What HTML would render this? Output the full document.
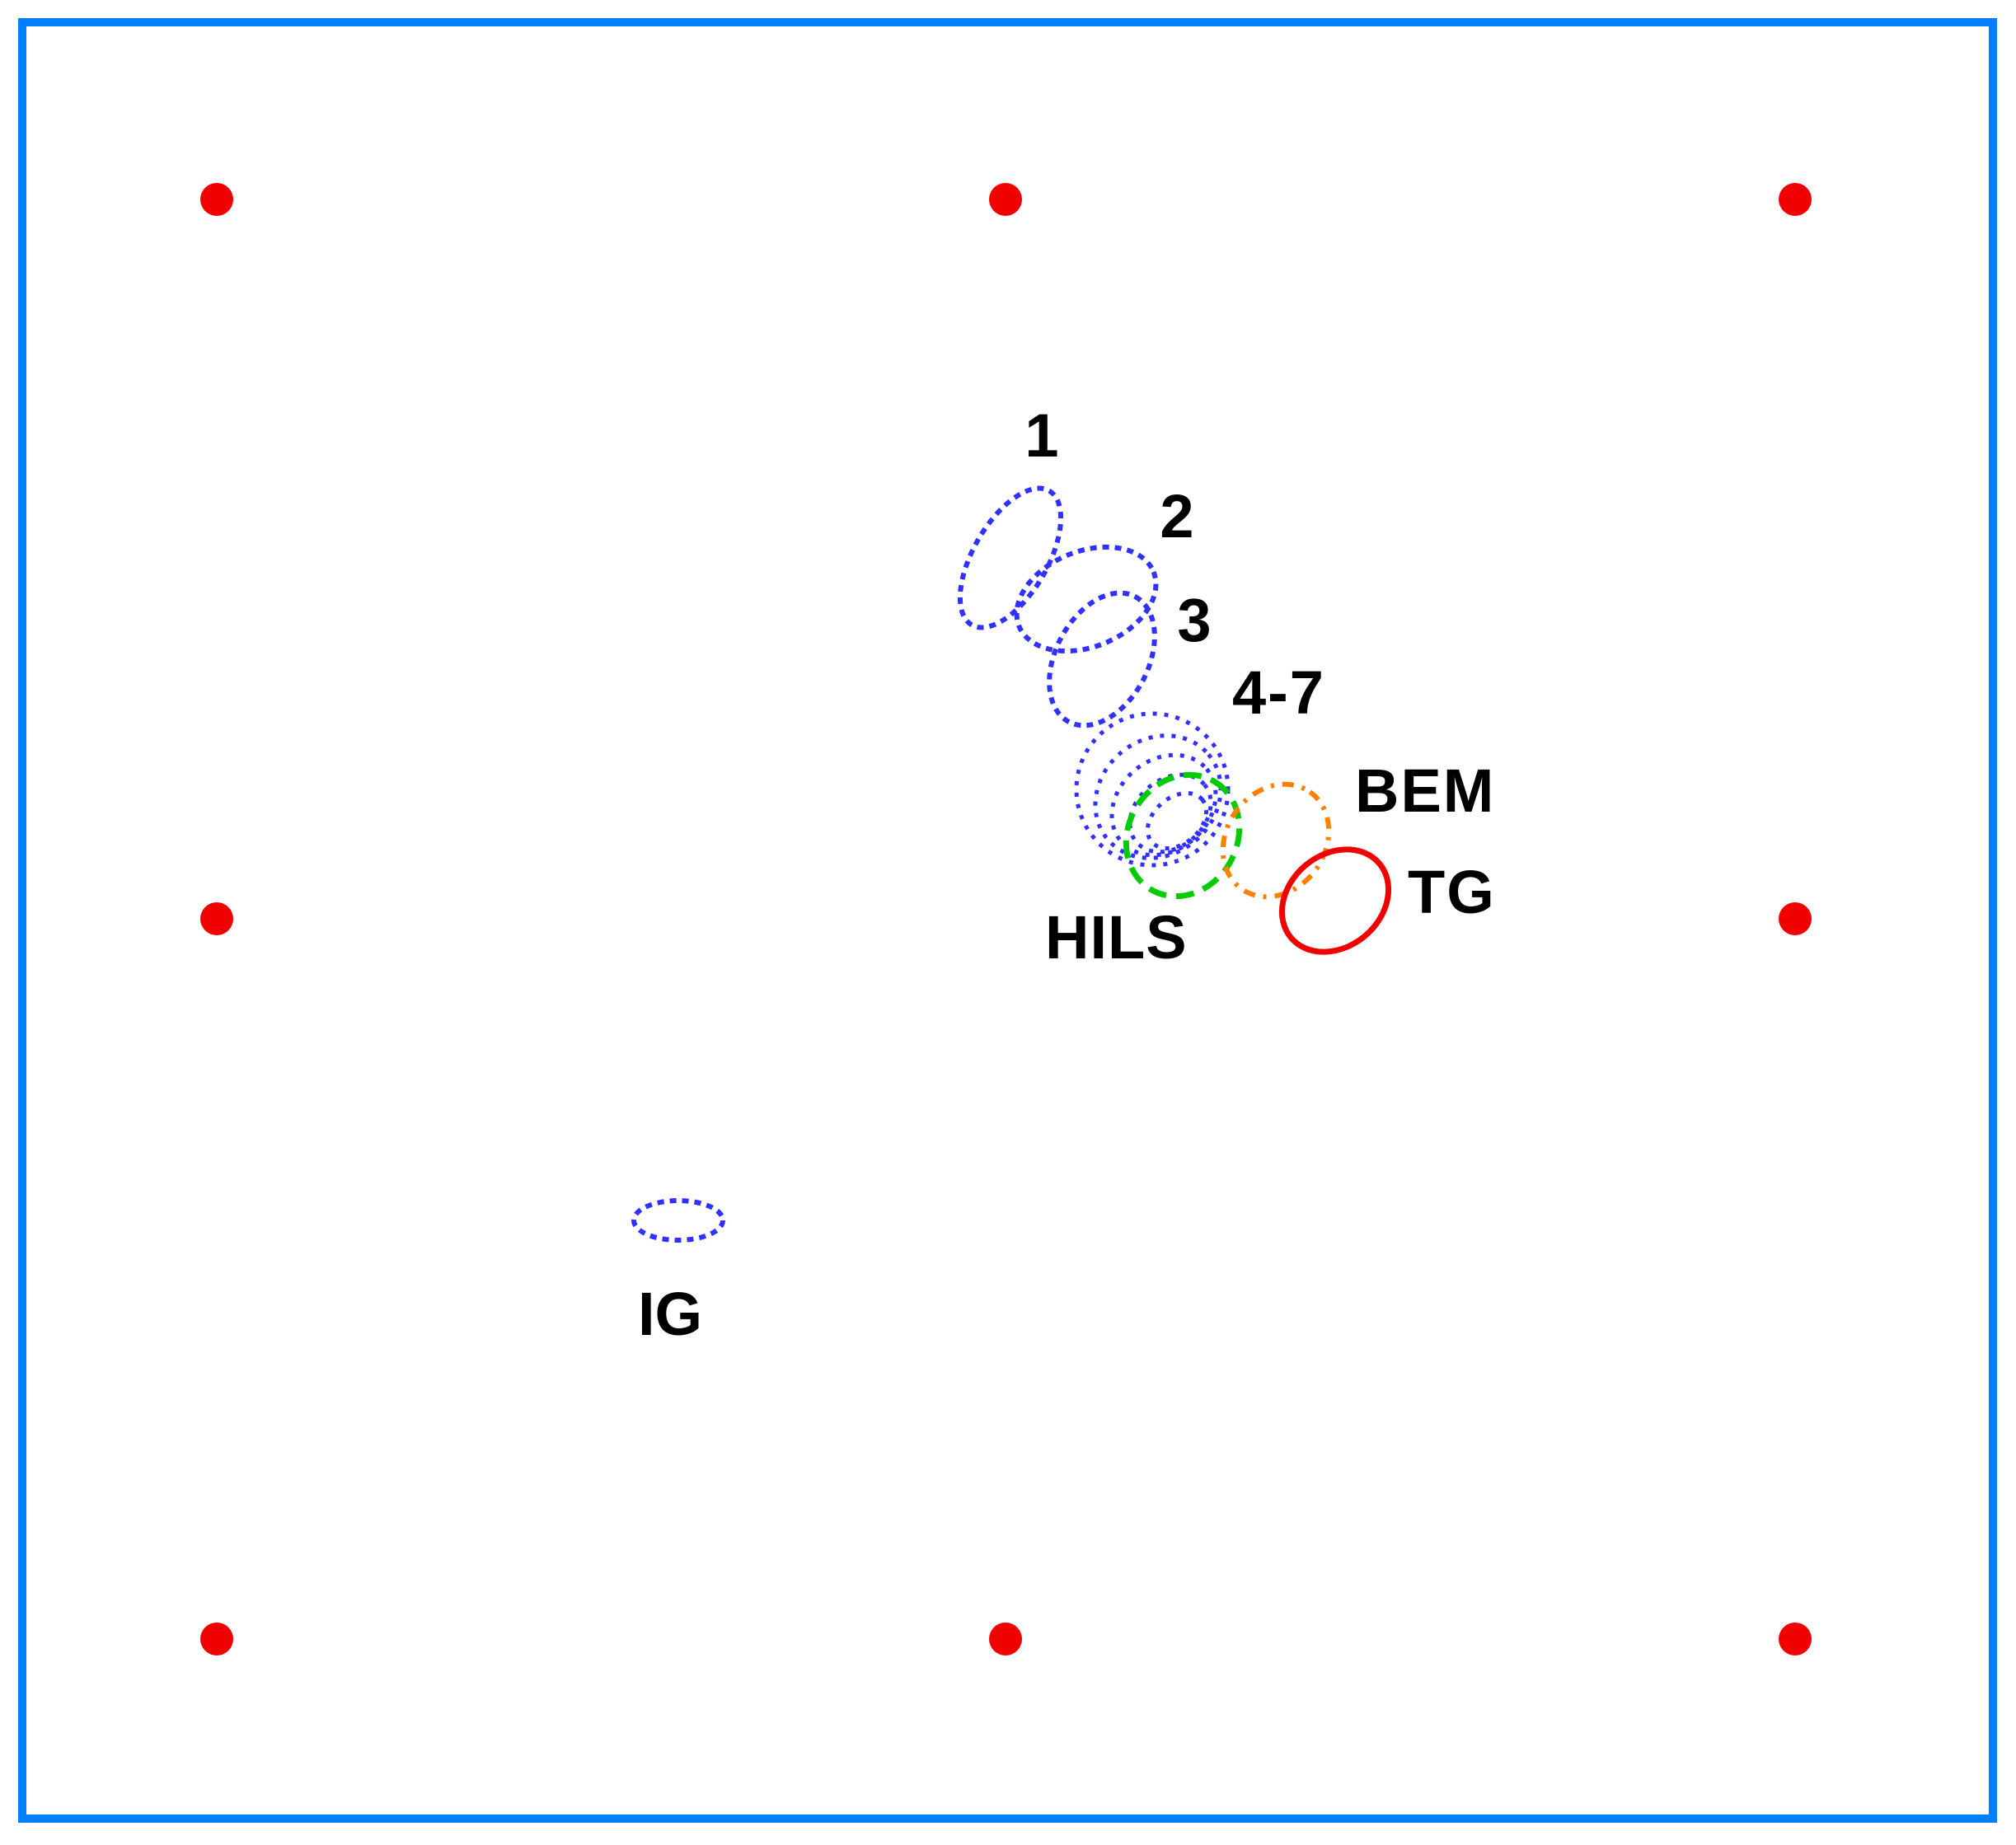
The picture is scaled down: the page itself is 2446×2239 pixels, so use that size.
<!DOCTYPE html>
<html><head><style>
html,body{margin:0;padding:0;background:#fff;}
svg{display:block;}
text{font-family:"Liberation Sans",sans-serif;font-weight:bold;font-size:74px;fill:#000;}
</style></head><body>
<svg width="2446" height="2239" viewBox="0 0 2446 2239" xmlns="http://www.w3.org/2000/svg">
<rect x="27" y="27" width="2391" height="2180" fill="none" stroke="#0080ff" stroke-width="10"/>
<g fill="#f00000">
<circle cx="263" cy="242" r="20"/><circle cx="1220" cy="242" r="20"/><circle cx="2178" cy="242" r="20"/>
<circle cx="263" cy="1115" r="20"/><circle cx="2178" cy="1115" r="20"/>
<circle cx="263" cy="1989" r="20"/><circle cx="1220" cy="1989" r="20"/><circle cx="2178" cy="1989" r="20"/>
</g>
<g fill="none" stroke="#3030ff" stroke-width="6" stroke-dasharray="8 7">
<ellipse cx="1226" cy="677" rx="94" ry="45" transform="rotate(-60 1226 677)"/>
<ellipse cx="1318" cy="727" rx="88" ry="58" transform="rotate(-22 1318 727)"/>
<ellipse cx="1337" cy="800" rx="86" ry="56" transform="rotate(-62 1337 800)"/>
<ellipse cx="823" cy="1481" rx="54" ry="24"/>
</g>
<g fill="none" stroke="#3030ff" stroke-width="5" stroke-dasharray="5 9">
<circle cx="1398" cy="958" r="92"/>
<ellipse cx="1405" cy="967" rx="80" ry="70" transform="rotate(-40 1405 967)"/>
<ellipse cx="1412" cy="977" rx="68" ry="55" transform="rotate(-40 1412 977)"/>
<ellipse cx="1420" cy="987" rx="54" ry="41" transform="rotate(-40 1420 987)"/>
<ellipse cx="1428" cy="996" rx="40" ry="28" transform="rotate(-40 1428 996)"/>
</g>
<ellipse cx="1435" cy="1014" rx="76" ry="66" transform="rotate(-60 1435 1014)" fill="none" stroke="#00cc00" stroke-width="7" stroke-dasharray="22 12"/>
<ellipse cx="1548" cy="1020" rx="72" ry="60" transform="rotate(-55 1548 1020)" fill="none" stroke="#ff8000" stroke-width="6" stroke-dasharray="14 10 4 10"/>
<ellipse cx="1620" cy="1093" rx="70" ry="56" transform="rotate(-40 1620 1093)" fill="none" stroke="#f00000" stroke-width="7"/>
<text x="1264" y="554" text-anchor="middle">1</text>
<text x="1428" y="652" text-anchor="middle">2</text>
<text x="1449" y="778" text-anchor="middle">3</text>
<text x="1495" y="866" letter-spacing="2">4-7</text>
<text x="1644" y="985" letter-spacing="2">BEM</text>
<text x="1708" y="1108" letter-spacing="2">TG</text>
<text x="1268" y="1163" letter-spacing="1">HILS</text>
<text x="774" y="1620">IG</text>
</svg>
</body></html>
